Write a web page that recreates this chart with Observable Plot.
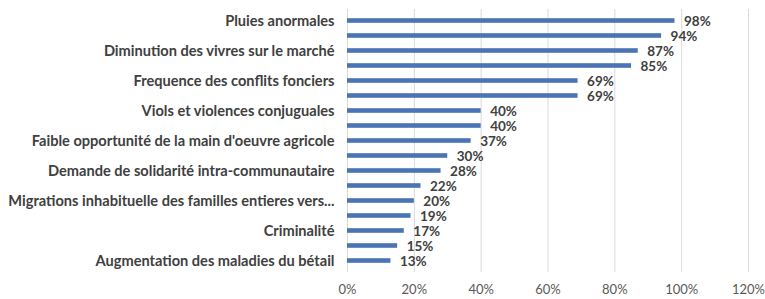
<!DOCTYPE html>
<html>
<head>
<meta charset="utf-8">
<script src="https://cdn.jsdelivr.net/npm/d3@7"></script>
<script src="https://cdn.jsdelivr.net/npm/@observablehq/plot@0.6"></script>
<style>
  html, body { margin: 0; padding: 0; background: #fff; }
  #chart svg { display: block; }
</style>
</head>
<body>
<div id="chart"></div>
<script>
// Category labels (only every other one is shown on the axis in the original)
const categories = [
  "Pluies anormales", "",
  "Diminution des vivres sur le marché", "",
  "Frequence des conflits fonciers", "",
  "Viols et violences conjuguales", "",
  "Faible opportunité de la main d'oeuvre agricole", "",
  "Demande de solidarité intra-communautaire", "",
  "Migrations inhabituelle des familles entieres vers...", "",
  "Criminalité", "",
  "Augmentation des maladies du bétail"
];
const values = [98, 94, 87, 85, 69, 69, 40, 40, 37, 30, 28, 22, 20, 19, 17, 15, 13];
const xTicks = [0, 20, 40, 60, 80, 100, 120];

const data = values.map((v, i) => ({i, label: categories[i], v}));
const idx = d3.range(values.length);

const chart = Plot.plot({
  width: 765,
  height: 299,
  marginLeft: 347,
  marginRight: 17,
  marginTop: 9,
  marginBottom: 27,
  style: {fontFamily: "Lato, sans-serif", background: "#fff", color: "#404040"},
  x: {domain: [0, 120], ticks: xTicks},
  y: {domain: idx, padding: 0},
  marks: [
    Plot.gridX(xTicks, {stroke: "#d9d9d9", strokeOpacity: 1, strokeWidth: 1}),
    Plot.barX(data, {x: "v", y: "i", fill: "#4a74b4", insetTop: 5.2, insetBottom: 5.2}),
    Plot.text(data, {x: "v", y: "i", text: d => d.v + "%", dx: 9, dy: 1, textAnchor: "start", fontWeight: "bold", fontSize: 13.5, fill: "#404040"}),
    Plot.axisY(idx.filter(i => categories[i] !== ""), {tickFormat: i => categories[i], tickSize: 0, tickPadding: 13, fontSize: 14.6, fontWeight: "bold", fill: "#404040", label: null}),
    Plot.axisX(xTicks, {tickFormat: d => d + "%", tickSize: 0, tickPadding: 12, fontSize: 13, fill: "#595959", label: null})
  ]
});
document.getElementById("chart").appendChild(chart);
</script>
</body>
</html>
